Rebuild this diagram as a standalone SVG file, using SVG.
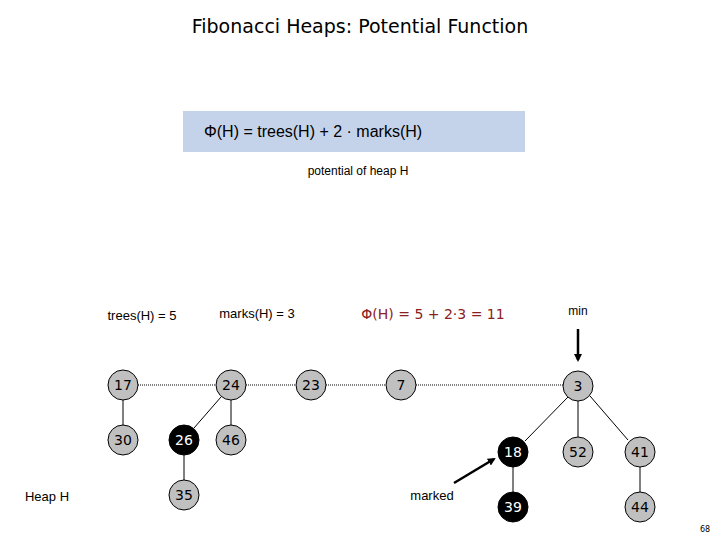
<svg xmlns="http://www.w3.org/2000/svg" width="720" height="540" viewBox="0 0 720 540">
<style>
text{font-family:"DejaVu Sans","Liberation Sans",sans-serif;}
.n circle{fill:#c0c0c0;stroke:#000;stroke-width:1}
.n text{font-size:14px;text-anchor:middle;fill:#000}
.m circle{fill:#000}
.m text{fill:#fff}
.lbl{font-family:"Liberation Sans",sans-serif;font-size:13px;fill:#000}
</style>
<defs><marker id="ah" markerWidth="8" markerHeight="8" refX="6" refY="4" orient="auto" markerUnits="userSpaceOnUse"><path d="M0,0L8,4L0,8z" fill="#000"/></marker></defs>
<rect width="720" height="540" fill="#fff"/>
<text x="360" y="33" font-size="19" text-anchor="middle">Fibonacci Heaps:  Potential Function</text>
<rect x="183" y="111" width="342" height="41" fill="#c5d3ea"/>
<text x="204" y="137" font-size="16" style="font-family:'Liberation Sans',sans-serif">Φ(H)  = trees(H) + 2 · marks(H)</text>
<text x="358" y="175" class="lbl" text-anchor="middle" font-size="12" style="font-size:12px">potential of heap H</text>
<text x="142" y="320" class="lbl" text-anchor="middle">trees(H) = 5</text>
<text x="257" y="318" class="lbl" text-anchor="middle">marks(H) = 3</text>
<text x="433" y="319" font-size="14" fill="#8b2020" text-anchor="middle">Φ(H) = 5 + 2·3 = 11</text>
<text x="578" y="315" class="lbl" text-anchor="middle" style="font-size:12px">min</text>
<text x="47" y="501" class="lbl" text-anchor="middle">Heap H</text>
<text x="432" y="500" class="lbl" text-anchor="middle">marked</text>
<text x="705" y="532" font-size="8" text-anchor="middle">68</text>
<g id="connectors" stroke="#000">
<path d="M138,385H216M246,385H296M326,385H386M416,385H563" stroke-dasharray="1,1" fill="none"/>
<path d="M123,400V425M231,400V425M184,455V480M578,401V437M640,467V492M513,467V492M221,397L194,428M568,397L525,441M590,396L628,440"/>
<path d="M578,329V360" stroke-width="2.5" marker-end="url(#ah)"/>
<path d="M454,483L494,459" stroke-width="2.5" marker-end="url(#ah)"/>
</g>
<g id="n17" class="n"><circle cx="123" cy="385" r="15"/><text x="123" y="390">17</text></g>
<g id="n24" class="n"><circle cx="231" cy="385" r="15"/><text x="231" y="390">24</text></g>
<g id="n23" class="n"><circle cx="311" cy="385" r="15"/><text x="311" y="390">23</text></g>
<g id="n7" class="n"><circle cx="401" cy="385" r="15"/><text x="401" y="390">7</text></g>
<g id="n3" class="n"><circle cx="578" cy="386" r="15"/><text x="578" y="391">3</text></g>
<g id="n30" class="n"><circle cx="123" cy="440" r="15"/><text x="123" y="445">30</text></g>
<g id="n26" class="n m"><circle cx="184" cy="440" r="15"/><text x="184" y="445">26</text></g>
<g id="n46" class="n"><circle cx="231" cy="440" r="15"/><text x="231" y="445">46</text></g>
<g id="n35" class="n"><circle cx="184" cy="495" r="15"/><text x="184" y="500">35</text></g>
<g id="n18" class="n m"><circle cx="513" cy="452" r="15"/><text x="513" y="457">18</text></g>
<g id="n52" class="n"><circle cx="578" cy="452" r="15"/><text x="578" y="457">52</text></g>
<g id="n41" class="n"><circle cx="640" cy="452" r="15"/><text x="640" y="457">41</text></g>
<g id="n39" class="n m"><circle cx="513" cy="507" r="15"/><text x="513" y="512">39</text></g>
<g id="n44" class="n"><circle cx="640" cy="507" r="15"/><text x="640" y="512">44</text></g>
</svg>
